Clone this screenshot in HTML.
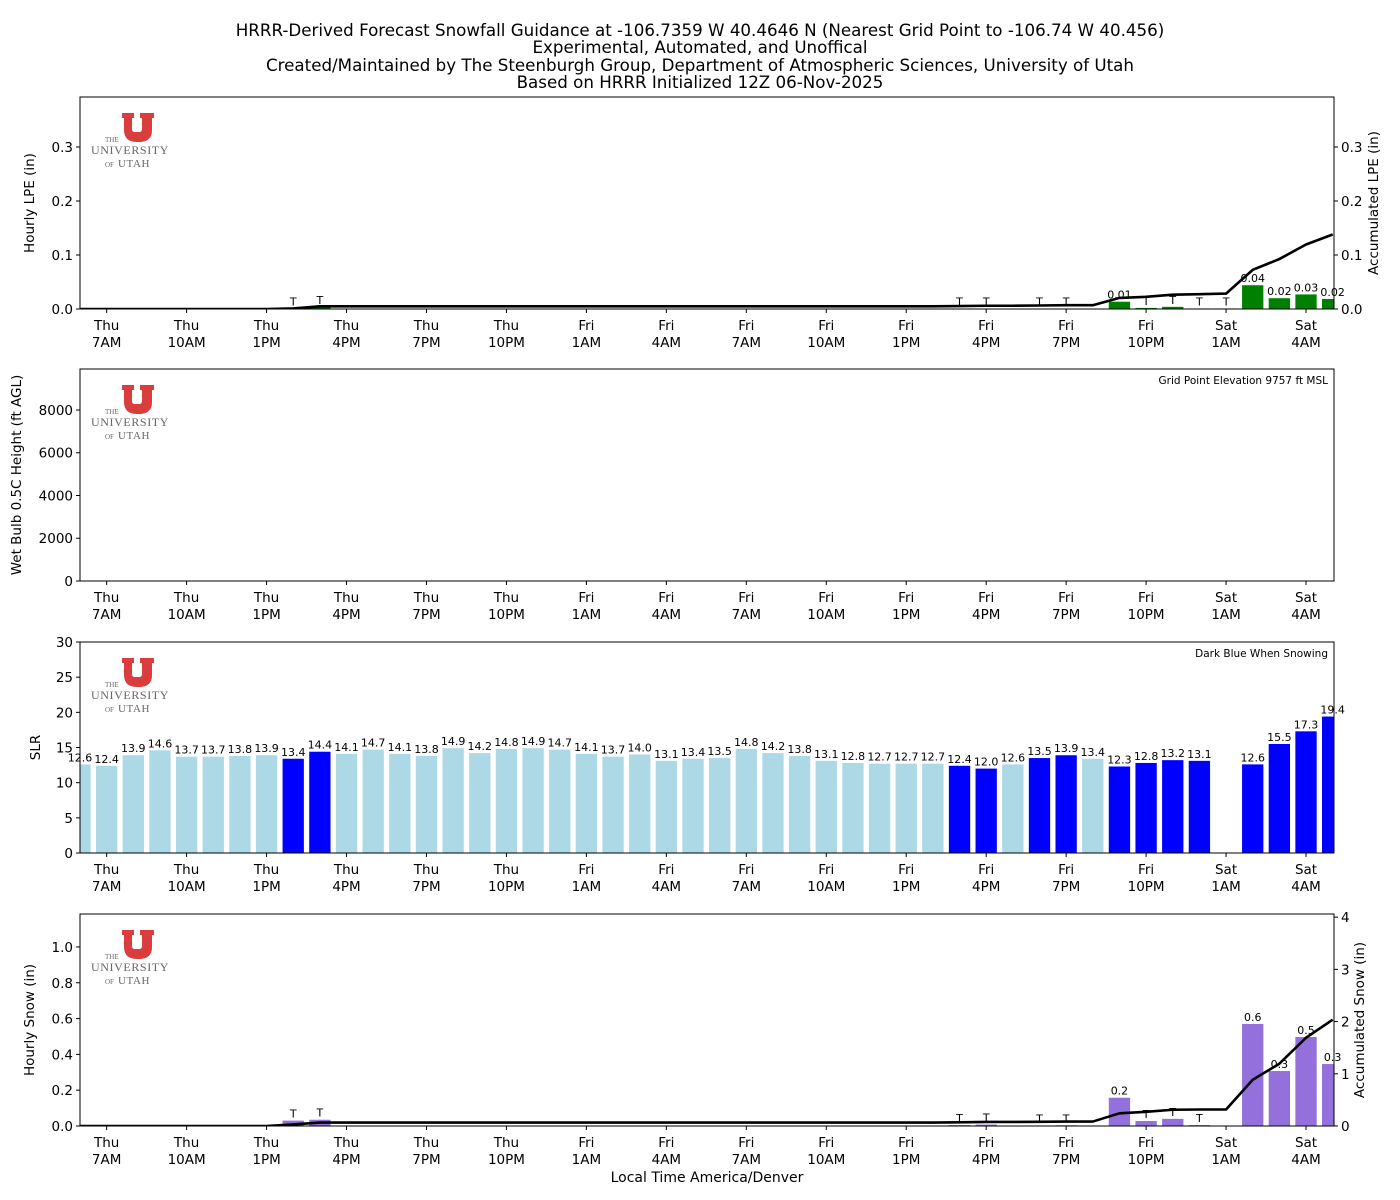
<!DOCTYPE html>
<html><head><meta charset="utf-8"><style>
body{margin:0;background:#fff;}
svg{display:block;font-family:"DejaVu Sans","Liberation Sans",sans-serif;}
</style></head><body>
<svg id="chart" width="1400" height="1200" viewBox="0 0 1400 1200" xmlns="http://www.w3.org/2000/svg">
<g font-size="16.7" text-anchor="middle" fill="#000">
<text x="700" y="36">HRRR-Derived Forecast Snowfall Guidance at -106.7359 W 40.4646 N (Nearest Grid Point to -106.74 W 40.456)</text>
<text x="700" y="53">Experimental, Automated, and Unoffical</text>
<text x="700" y="71">Created/Maintained by The Steenburgh Group, Department of Atmospheric Sciences, University of Utah</text>
<text x="700" y="88">Based on HRRR Initialized 12Z 06-Nov-2025</text>
</g>
<text x="707" y="1182" font-size="14" text-anchor="middle">Local Time America/Denver</text>
</svg>
<script>
// Hour index: -1 = Thu 6AM ... 46 = Sat 5AM
const hours = [-1,0,1,2,3,4,5,6,7,8,9,10,11,12,13,14,15,16,17,18,19,20,21,22,23,24,25,26,27,28,29,30,31,32,33,34,35,36,37,38,39,40,41,42,43,44,45,46];
const tickDays = ["Thu","Thu","Thu","Thu","Thu","Thu","Fri","Fri","Fri","Fri","Fri","Fri","Fri","Fri","Sat","Sat"];
const tickTimes = ["7AM","10AM","1PM","4PM","7PM","10PM","1AM","4AM","7AM","10AM","1PM","4PM","7PM","10PM","1AM","4AM"];
const lpeValues = [0,0,0,0,0,0,0,0,0.001,0.004,0,0,0,0,0,0,0,0,0,0,0,0,0,0,0,0,0,0,0,0,0,0,0,0.0005,0.0005,0,0.0005,0.0005,0,0.0135,0.002,0.004,0.001,0.001,0.044,0.02,0.027,0.0185];
const slrValues = [12.6,12.4,13.9,14.6,13.7,13.7,13.8,13.9,13.4,14.4,14.1,14.7,14.1,13.8,14.9,14.2,14.8,14.9,14.7,14.1,13.7,14.0,13.1,13.4,13.5,14.8,14.2,13.8,13.1,12.8,12.7,12.7,12.7,12.4,12.0,12.6,13.5,13.9,13.4,12.3,12.8,13.2,13.1,null,12.6,15.5,17.3,19.4];
const snowingFlags = [0,0,0,0,0,0,0,0,1,1,0,0,0,0,0,0,0,0,0,0,0,0,0,0,0,0,0,0,0,0,0,0,0,1,1,0,1,1,0,1,1,1,1,0,1,1,1,1];
const snowValues = [0,0,0,0,0,0,0,0,0.03,0.035,0,0,0,0,0,0,0,0,0,0,0,0,0,0,0,0,0,0,0,0,0,0,0,0.005,0.008,0,0.003,0.004,0,0.158,0.028,0.04,0.005,0,0.57,0.307,0.497,0.346];
const lpeTicks = [0,0.1,0.2,0.3];
const wbTicks = [0,2000,4000,6000,8000];
const slrTicks = [0,5,10,15,20,25,30];
const snowTicks = [0,0.2,0.4,0.6,0.8,1.0];
const accSnowTicks = [0,1,2,3,4];

const NS="http://www.w3.org/2000/svg";
const svg=document.getElementById('chart');
const X0=80,X1=1334,XMIN=-1,XMAX=46.05;
function xs(v){return X0+(v-XMIN)/(XMAX-XMIN)*(X1-X0);}
function mk(tag,attrs,parent){const e=document.createElementNS(NS,tag);for(const k in attrs)e.setAttribute(k,attrs[k]);(parent||svg).appendChild(e);return e;}
function cumsum(a){let s=0;return a.map(v=>(s+=v));}

function panel(id,top,bottom,ymax,rmax){
  const g=mk('g',{});
  
  
  const cp=mk('clipPath',{id:'clip-'+id},g);
  mk('rect',{x:X0,y:top,width:X1-X0,height:bottom-top},cp);
  const plot=mk('g',{'clip-path':'url(#clip-'+id+')'},g);
  
  
  const labels=mk('g',{},g);
  
  
  const ys=v=>bottom-v/ymax*(bottom-top);
  const yr=rmax?(v=>bottom-v/rmax*(bottom-top)):ys;
  return {g,plot,labels,ys,yr,top,bottom};
}
function frame(p,id){
  const f=mk('rect',{x:X0,y:p.top,width:X1-X0,height:p.bottom-p.top,fill:'none',stroke:'#000','stroke-width':1},p.g);
  
  
  const xa=mk('g',{'font-size':13.5,'text-anchor':'middle'},p.g);
  
  
  tickDays.forEach((d,i)=>{
    const x=xs(i*3);
    mk('line',{x1:x,x2:x,y1:p.bottom,y2:p.bottom+4,stroke:'#000'},xa);
    const t1=mk('text',{x:x,y:p.bottom+21},xa);t1.textContent=d;
    const t2=mk('text',{x:x,y:p.bottom+38},xa);t2.textContent=tickTimes[i];
  });
}
function yaxis(p,id,ticks,scale,fmt,side,title,tx){
  const ga=mk('g',{'font-size':13.5,'text-anchor':side==='left'?'end':'start'},p.g);
  
  
  ticks.forEach(v=>{
    const y=scale(v);
    const x=side==='left'?X0:X1;
    const d=side==='left'?-4:4;
    mk('line',{x1:x,x2:x+d,y1:y,y2:y,stroke:'#000'},ga);
    const t=mk('text',{x:x+(side==='left'?-7:7),y:y+5},ga);t.textContent=fmt(v);
  });
  const cy=(p.top+p.bottom)/2;
  const tt=mk('text',{x:tx,y:cy,'font-size':13.5,'text-anchor':'middle',transform:'rotate(-90 '+tx+' '+cy+')'},p.g);
  tt.textContent=title;
  
  
}
function logo(p,id){
  const lg=mk('g',{},p.g);
  
  
  const t=p.top;
  mk('path',{d:`M122 ${t+16} h12 v5 h-2 v11 q0 3 3 3 h4 q3 0 3 -3 v-11 h-2 v-5 h14 v5 h-2 v12 q0 12 -13 12 h-2 q-13 0 -13 -12 v-12 h-2 z`,fill:'#d93d3d'},lg);
  const a=mk('text',{x:105,y:t+45,'font-size':7,fill:'#666','font-family':'Liberation Serif,serif'},lg);a.textContent='THE';
  const b=mk('text',{x:130,y:t+57,'font-size':12,fill:'#666','text-anchor':'middle','font-family':'Liberation Serif,serif','letter-spacing':'0.6'},lg);b.textContent='UNIVERSITY';
  const c=mk('text',{x:105,y:t+70,'font-size':7,fill:'#666','font-family':'Liberation Serif,serif'},lg);c.textContent='OF';
  const d=mk('text',{x:118,y:t+70,'font-size':11,fill:'#666','font-family':'Liberation Serif,serif','letter-spacing':'0.6'},lg);d.textContent='UTAH';
}
function bars(p,id,vals,color,labelFn){
  vals.forEach((v,i)=>{
    if(v===null)return;
    const h=hours[i];
    const x=xs(h-0.4),w=xs(h+0.4)-xs(h-0.4);
    const y=p.ys(v);
    const col=typeof color==='function'?color(i):color;
    if(v>0){
      const r=mk('rect',{x:x,y:y,width:w,height:p.bottom-y,fill:col},p.plot);
      
      
    }
    const lab=labelFn(v);
    if(lab){
      const t=mk('text',{x:xs(h),y:y-3,'font-size':11,'text-anchor':'middle'},p.labels);
      t.textContent=lab;
      
      
    }
  });
}
function line(p,id,vals){
  const pts=vals.map((v,i)=>xs(hours[i])+','+p.yr(v)).join(' ');
  const l=mk('polyline',{points:pts,fill:'none',stroke:'#000','stroke-width':2.6,'stroke-linejoin':'round'},p.plot);
  
  
}

// Panel 1: LPE
const p1=panel('lpe',97,309,0.3926,0.3926);
logo(p1,'lpe');
bars(p1,'lpe',lpeValues,'#008000',v=>v<=0?'':(v<0.005?'T':v.toFixed(2)));
line(p1,'lpe',cumsum(lpeValues));
frame(p1,'lpe');
yaxis(p1,'lpe',lpeTicks,p1.ys,v=>v.toFixed(1),'left','Hourly LPE (in)',34);
yaxis(p1,'lpe',lpeTicks,p1.yr,v=>v.toFixed(1),'right','Accumulated LPE (in)',1378);

// Panel 2: Wet bulb
const p2=panel('wetbulb',369,581,9918);
logo(p2,'wetbulb');
frame(p2,'wetbulb');
yaxis(p2,'wetbulb',wbTicks,p2.ys,v=>String(v),'left','Wet Bulb 0.5C Height (ft AGL)',21);
const n2=mk('text',{x:1328,y:384,'font-size':10.5,'text-anchor':'end'},p2.g);
n2.textContent='Grid Point Elevation 9757 ft MSL';



// Panel 3: SLR
const p3=panel('slr',642,853,30);
logo(p3,'slr');
bars(p3,'slr',slrValues,i=>snowingFlags[i]?'#0000ff':'#add8e6',v=>v===null?'':v.toFixed(1));
frame(p3,'slr');
yaxis(p3,'slr',slrTicks,p3.ys,v=>String(v),'left','SLR',40);
const n3=mk('text',{x:1328,y:657,'font-size':10.5,'text-anchor':'end'},p3.g);
n3.textContent='Dark Blue When Snowing';



// Panel 4: Snow
const p4=panel('snow',914,1126,1.184,4.06);
logo(p4,'snow');
bars(p4,'snow',snowValues,'#9370db',v=>v<=0?'':(v<0.05?'T':v.toFixed(1)));
line(p4,'snow',cumsum(snowValues));
frame(p4,'snow');
yaxis(p4,'snow',snowTicks,p4.ys,v=>v.toFixed(1),'left','Hourly Snow (in)',34);
yaxis(p4,'snow',accSnowTicks,p4.yr,v=>String(v),'right','Accumulated Snow (in)',1364);
</script>
</body></html>
